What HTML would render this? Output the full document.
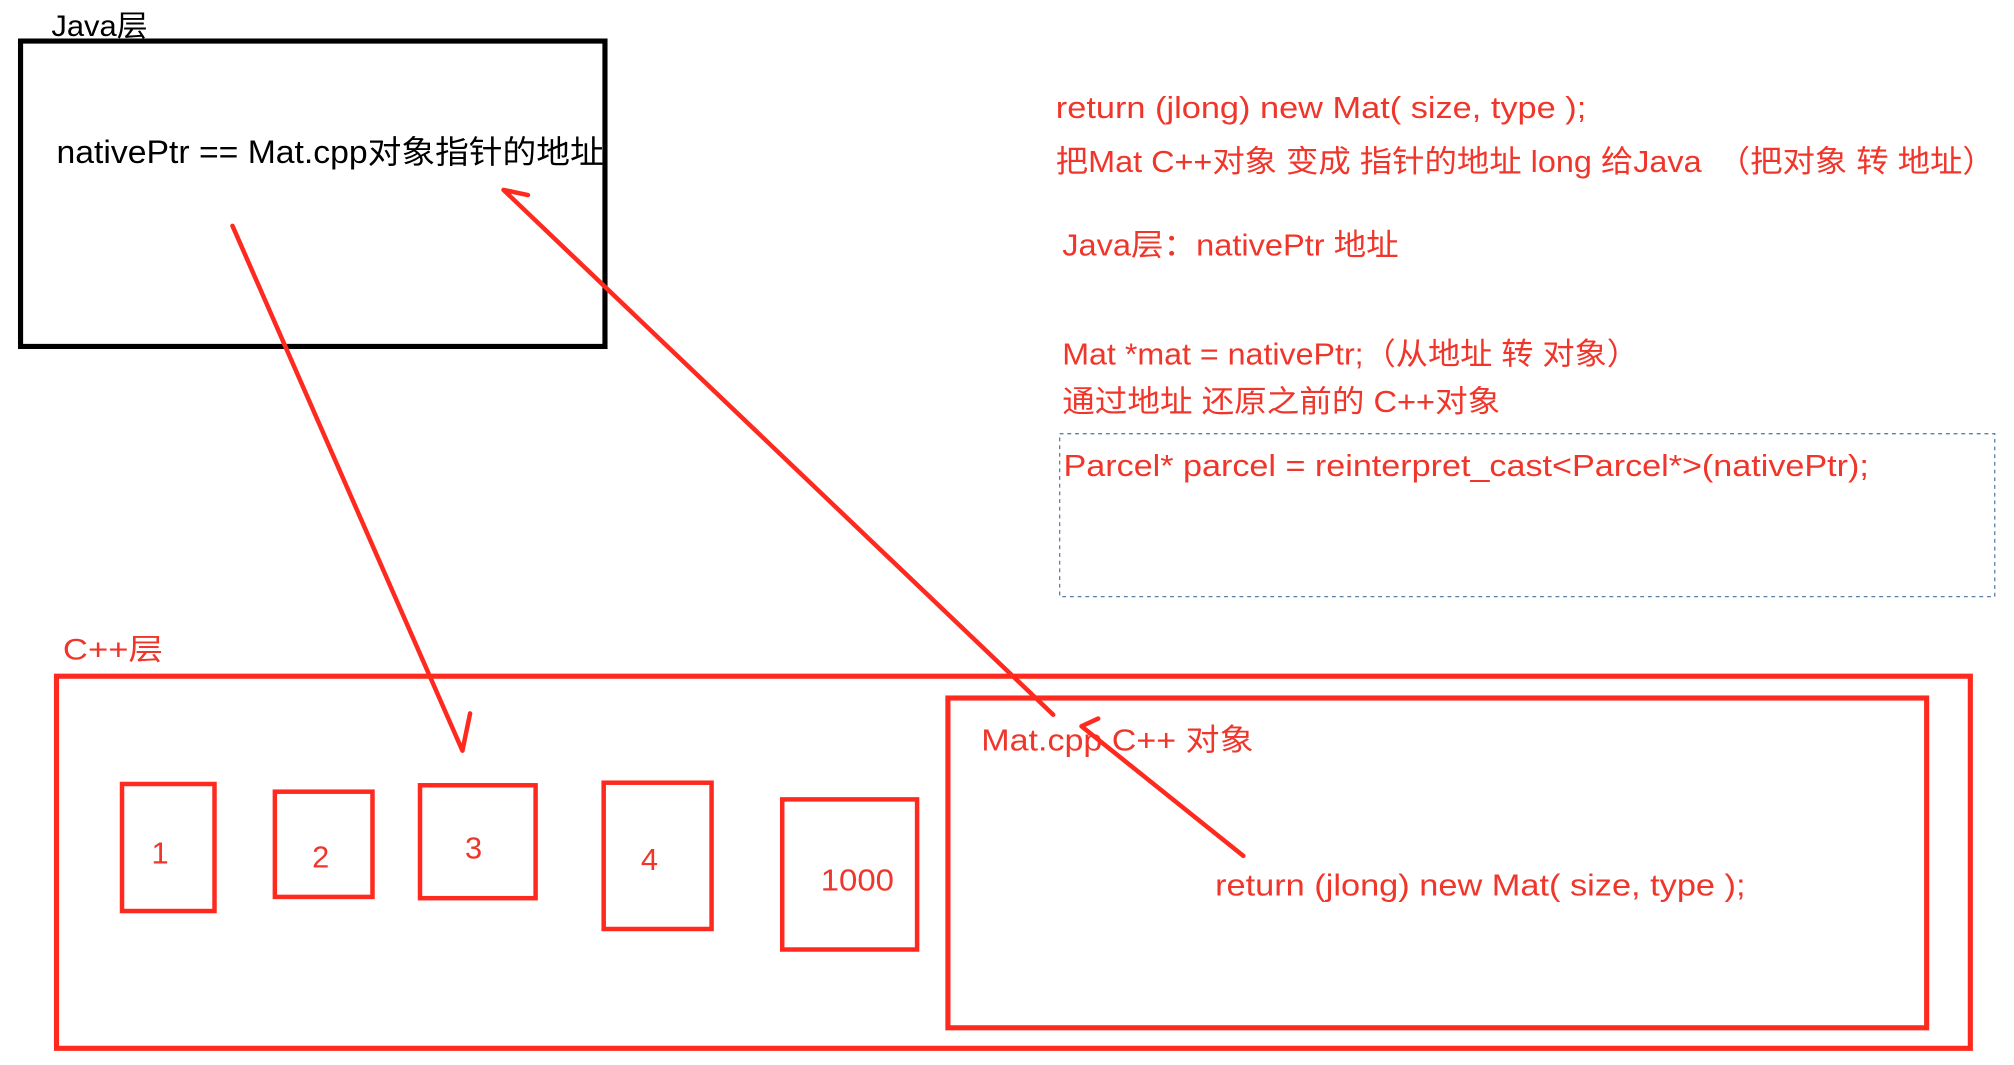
<!DOCTYPE html>
<html><head><meta charset="utf-8"><style>
html,body{margin:0;padding:0;background:#fff;width:2014px;height:1065px;overflow:hidden}
svg{display:block}
text{font-family:"Liberation Sans","Noto Sans CJK SC",sans-serif}
</style></head><body>
<svg width="2014" height="1065" viewBox="0 0 1568 830" preserveAspectRatio="none" xmlns="http://www.w3.org/2000/svg">
<g>
<text x="40" y="28" font-size="23" fill="#000" textLength="75" lengthAdjust="spacingAndGlyphs">Java层</text>
<rect x="16" y="32" width="455" height="238" fill="none" stroke="#000" stroke-width="4"/>
<text x="44" y="127" font-size="25" fill="#000" textLength="426" lengthAdjust="spacingAndGlyphs">nativePtr == Mat.cpp对象指针的地址</text>
</g>
<g fill="#f0352a" font-size="24">
<text x="822" y="92" textLength="413" lengthAdjust="spacingAndGlyphs">return (jlong) new Mat( size, type );</text>
<text x="822" y="134" textLength="731" lengthAdjust="spacingAndGlyphs">把Mat C++对象 变成 指针的地址 long 给Java　（把对象 转 地址）</text>
<text x="827" y="199" textLength="262" lengthAdjust="spacingAndGlyphs">Java层：nativePtr 地址</text>
<text x="827" y="284" textLength="449" lengthAdjust="spacingAndGlyphs">Mat *mat = nativePtr;（从地址 转 对象）</text>
<text x="827" y="321" textLength="341" lengthAdjust="spacingAndGlyphs">通过地址 还原之前的 C++对象</text>
<rect x="825" y="338" width="728" height="127" fill="none" stroke="#5b7fa8" stroke-width="1" stroke-dasharray="3,3"/>
<text x="828" y="371" textLength="627" lengthAdjust="spacingAndGlyphs">Parcel* parcel = reinterpret_cast&lt;Parcel*&gt;(nativePtr);</text>
</g>
<g fill="none" stroke="#ff2a1f">
<text x="49" y="514" font-size="23" fill="#f0352a" stroke="none" textLength="78" lengthAdjust="spacingAndGlyphs">C++层</text>
<rect x="44" y="527" width="1490" height="290" stroke-width="4"/>
<rect x="738" y="544" width="762" height="257" stroke-width="4"/>
<rect x="95" y="611" width="72" height="99" stroke-width="3.5"/>
<rect x="214" y="617" width="76" height="82" stroke-width="3.5"/>
<rect x="327" y="612" width="90" height="88" stroke-width="3.5"/>
<rect x="470" y="610" width="84" height="114" stroke-width="3.5"/>
<rect x="609" y="623" width="105" height="117" stroke-width="3.5"/>
<g fill="#f0352a" stroke="none" font-size="24">
<text x="118" y="673">1</text>
<text x="243" y="676">2</text>
<text x="362" y="669">3</text>
<text x="499" y="678">4</text>
<text x="639" y="694" textLength="57" lengthAdjust="spacingAndGlyphs">1000</text>
<text x="764" y="585" textLength="212" lengthAdjust="spacingAndGlyphs">Mat.cpp C++ 对象</text>
<text x="946" y="698" textLength="413" lengthAdjust="spacingAndGlyphs">return (jlong) new Mat( size, type );</text>
</g>
</g>
<g fill="none" stroke="#ff2a1f" stroke-width="3.5" stroke-linecap="round" stroke-linejoin="round">
<path d="M181,176 L360,585 M360,585 L366,556"/>
<path d="M820,557 L392,148 L411,152"/>
<path d="M968,667 L842,566 L855,560"/>
</g>
</svg>
</body></html>
